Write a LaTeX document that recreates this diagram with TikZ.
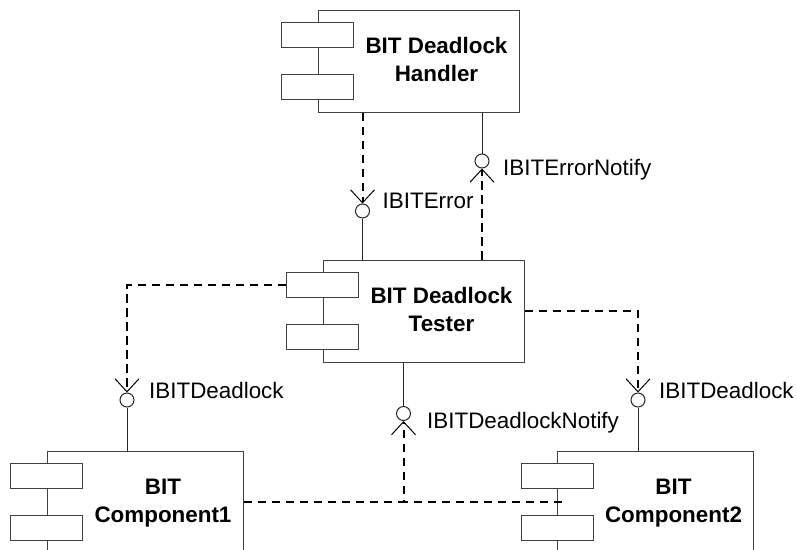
\documentclass[tikz,border=0pt]{standalone}
\usepackage{fontspec}
\setmainfont{Liberation Sans}
\usetikzlibrary{arrows.meta,positioning}

\begin{document}
\begin{tikzpicture}[
  x=1pt, y=-1pt,
  comp/.style={draw=black!75, line width=1pt, fill=white, minimum width=201pt, minimum height=102pt, inner sep=0pt},
  port/.style={draw=black!75, line width=1pt, fill=white, minimum width=72pt, minimum height=25.5pt, inner sep=0pt},
  ttl/.style={font=\fontsize{22.4}{28}\selectfont\bfseries, align=center, inner sep=0pt},
  lolli/.style={circle, draw=black!85, line width=1pt, fill=white, minimum size=14pt, inner sep=0pt},
  lbl/.style={font=\fontsize{22.4}{27}\selectfont, inner sep=0pt, anchor=base west},
  conn/.style={draw=black!85, line width=1pt},
  link/.style={draw=black, line width=2pt, dash pattern=on 8.5pt off 5.5pt},
  dep/.style={link, -{Straight Barb[length=13pt, width=24pt, line width=1pt]}}
]

\clip (0,0) rectangle (797,549);

% Handler
\node[comp] (hnd) at (418.5,61) {};
\node[port] (hnd p1) at ([yshift=-25.5pt]hnd.north west) {};
\node[port] (hnd p2) at ([yshift=25.5pt]hnd.south west) {};
\node[ttl] (hnd t) at ([shift={(18pt,2pt)}]hnd.center) {BIT Deadlock\\Handler};

% Tester
\node[comp] (tst) at (423.5,311) {};
\node[port] (tst p1) at ([yshift=-25.5pt]tst.north west) {};
\node[port] (tst p2) at ([yshift=25.5pt]tst.south west) {};
\node[ttl] (tst t) at ([shift={(18pt,2pt)}]tst.center) {BIT Deadlock\\Tester};

% Components
\node[comp, minimum width=196pt] (c1) at (145,502) {};
\node[port] (c1 p1) at ([yshift=-25.5pt]c1.north west) {};
\node[port] (c1 p2) at ([yshift=25.5pt]c1.south west) {};
\node[ttl] (c1 t) at ([shift={(18pt,-1pt)}]c1.center) {BIT\\Component1};

\node[comp, minimum width=196pt] (c2) at (655.5,502) {};
\node[port] (c2 p1) at ([yshift=-25.5pt]c2.north west) {};
\node[port] (c2 p2) at ([yshift=25.5pt]c2.south west) {};
\node[ttl] (c2 t) at ([shift={(18pt,-1pt)}]c2.center) {BIT\\Component2};

% Interfaces
\node[lolli] (err) at (362.5,211) {};
\node[lolli] (ern) at (482,161) {};
\node[lolli] (dl1) at (127,400) {};
\node[lolli] (dl2) at (638,400) {};
\node[lolli] (dln) at (403.5,413.5) {};

\node[lbl] (err l) at ([shift={(20pt,3pt)}]err.center) {IBITError};
\node[lbl] (ern l) at ([shift={(21pt,-14pt)}]ern.center) {IBITErrorNotify};
\node[lbl] (dl1 l) at ([shift={(22pt,2pt)}]dl1.center) {IBITDeadlock};
\node[lbl] (dl2 l) at ([shift={(21pt,2pt)}]dl2.center) {IBITDeadlock};
\node[lbl] (dln l) at ([shift={(23.5pt,-14.5pt)}]dln.center) {IBITDeadlockNotify};

% Connections
\draw[dep] (err |- hnd.south) -- (err.north);
\draw[conn] (err.south) -- (err |- tst.north);

\draw[conn] (ern |- hnd.south) -- (ern.north);
\draw[dep] (ern |- tst.north) -- (ern.south);

\draw[dep] (tst p1.west) -| (dl1.north);
\draw[conn] (dl1.south) -- (dl1 |- c1.north);

\draw[dep] (tst.east) -| (dl2.north);
\draw[conn] (dl2.south) -- (dl2 |- c2.north);

\draw[conn] (dln |- tst.south) -- (dln.north);
\draw[dep] (c1.east) -| (dln.south);
\draw[link] ([xshift=5pt]c2.west) -- (dln |- c2.west);

\end{tikzpicture}
\end{document}
